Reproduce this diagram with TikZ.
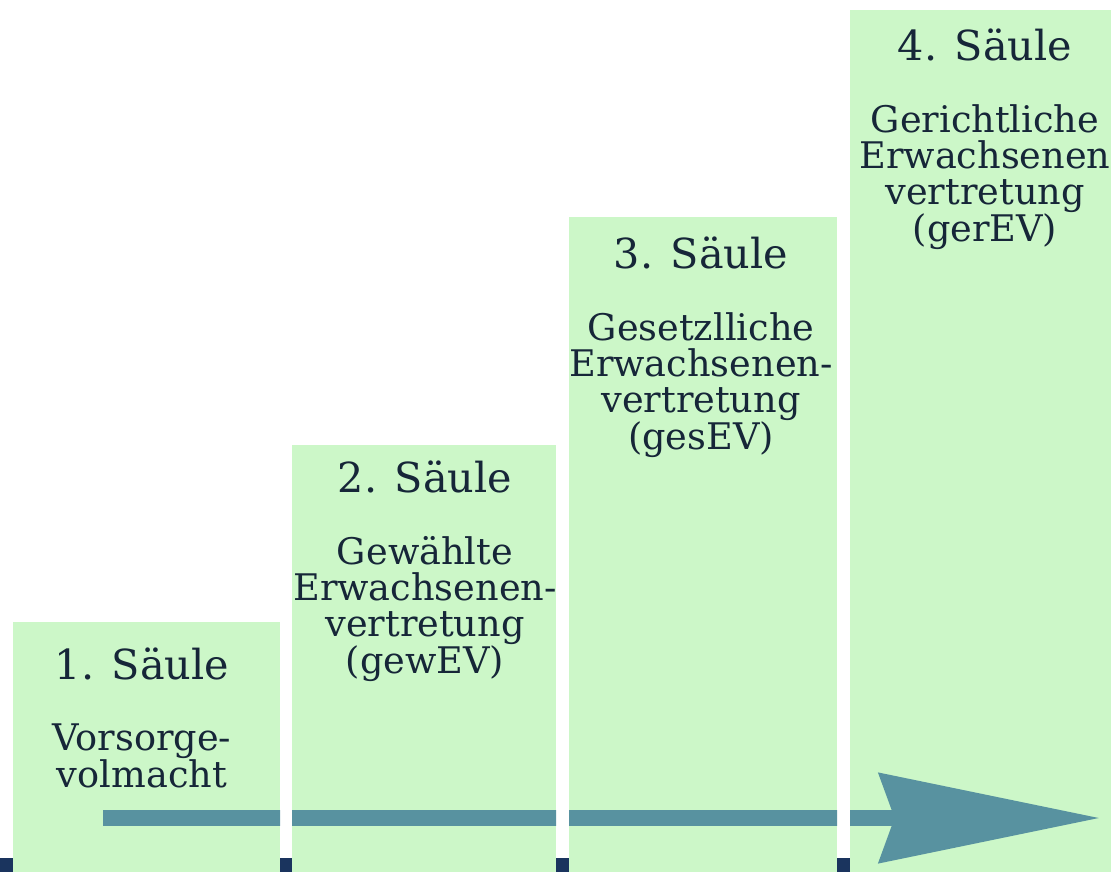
\documentclass[tikz,border=0pt]{standalone}
\usepackage{fontspec}
\setmainfont{DejaVu Serif}
\usetikzlibrary{positioning,arrows.meta}

\definecolor{saeulengruen}{RGB}{204,247,200}
\definecolor{pfeilblau}{RGB}{88,146,160}
\definecolor{sockelblau}{RGB}{26,52,94}
\definecolor{schrift}{RGB}{22,38,56}

\newcommand\titelfont{\fontsize{31}{31}\selectfont}
\newcommand\inhaltfont{\fontsize{27.5}{27}\selectfont}

\tikzset{
  saeule/.style={fill=saeulengruen, draw=none, inner sep=0pt, outer sep=0pt, anchor=south west},
  titel/.style={text=schrift, font=\titelfont, inner sep=0pt},
  inhalt/.style={text=schrift, font=\inhaltfont, align=center, inner sep=0pt, below=32pt of #1},
  pfeil/.style={pfeilblau, line width=12pt, -{Stealth[length=165pt, width=66pt, inset=11pt]}}
}

\begin{document}
\begin{tikzpicture}[x=0.75pt, y=-0.75pt]
  \useasboundingbox (0,0) rectangle (1111,872);
  % sockel
  \fill[sockelblau] (0,858) rectangle (1111,872);
  % die vier saeulen
  \node[saeule, minimum width=200.25pt, minimum height=187.5pt] (s1) at (13,872) {};
  \node[saeule, minimum width=198pt, minimum height=320.25pt] (s2) at (292,872) {};
  \node[saeule, minimum width=201pt, minimum height=491.25pt] (s3) at (569,872) {};
  \node[saeule, minimum width=196.5pt, minimum height=646.5pt] (s4) at (850,872) {};
  % pfeil nur auf den saeulen
  \coordinate (anfang) at (103,818);
  \coordinate (spitze) at (1100,818);
  \begin{scope}
    \clip (s1.south west) rectangle (s1.north east)
          (s2.south west) rectangle (s2.north east)
          (s3.south west) rectangle (s3.north east)
          (s4.south west) rectangle (s4.north east);
    \draw[pfeil] (anfang) -- (spitze);
  \end{scope}
  % beschriftung
  \node[titel] (t1) at (142,664) {1. Säule};
  \node[inhalt=t1] (i1) {Vorsorge-\\volmacht};
  \node[titel] (t2) at (425,477) {2. Säule};
  \node[inhalt=t2] (i2) {Gewählte\\Erwachsenen-\\vertretung\\(gewEV)};
  \node[titel] (t3) at (701,253) {3. Säule};
  \node[inhalt=t3] (i3) {Gesetzlliche\\Erwachsenen-\\vertretung\\(gesEV)};
  \node[titel] (t4) at (985,45) {4. Säule};
  \node[inhalt=t4] (i4) {Gerichtliche\\Erwachsenen\\vertretung\\(gerEV)};
\end{tikzpicture}
\end{document}
